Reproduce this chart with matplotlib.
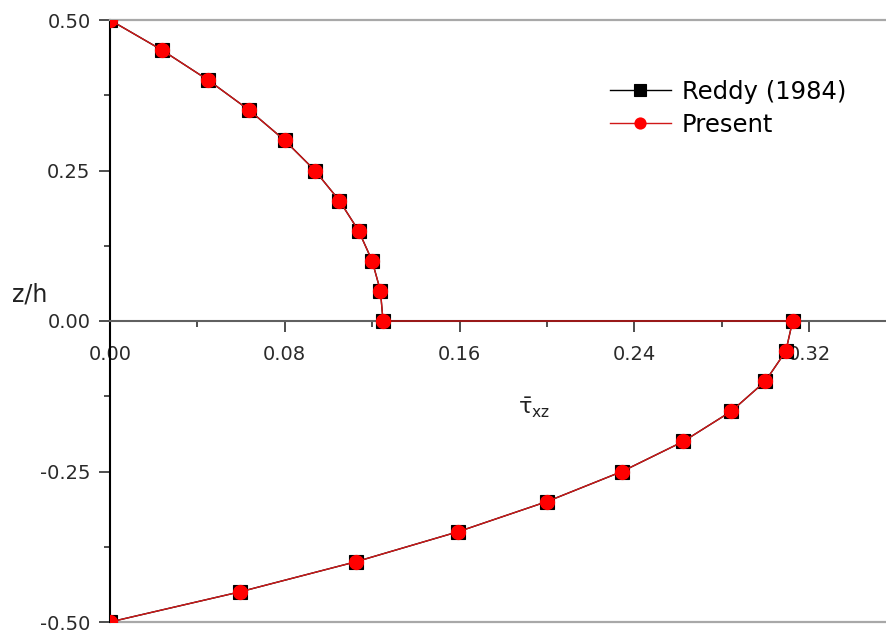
import matplotlib
matplotlib.use("Agg")
import matplotlib.pyplot as plt
from matplotlib.ticker import MultipleLocator, FormatStrFormatter

# Through-thickness transverse shear stress distribution
z_h = [0.50, 0.45, 0.40, 0.35, 0.30, 0.25, 0.20, 0.15, 0.10, 0.05, 0.00,
       0.00, -0.05, -0.10, -0.15, -0.20, -0.25, -0.30, -0.35, -0.40, -0.45, -0.50]
tau_reddy = [0.0, 0.0238, 0.0450, 0.0638, 0.0800, 0.0938, 0.1050, 0.1138, 0.1200, 0.1238, 0.1250,
             0.3125, 0.3094, 0.3000, 0.2844, 0.2625, 0.2344, 0.2000, 0.1594, 0.1125, 0.0594, 0.0]
tau_present = [0.0, 0.0238, 0.0450, 0.0638, 0.0800, 0.0938, 0.1050, 0.1138, 0.1200, 0.1238, 0.1250,
               0.3125, 0.3094, 0.3000, 0.2844, 0.2625, 0.2344, 0.2000, 0.1594, 0.1125, 0.0594, 0.0]

x_major = 0.08
x_minor = 0.04
y_major = 0.25
y_minor = 0.125

W, H = 887, 633
fig = plt.figure(figsize=(W / 100, H / 100), dpi=100)
ax = fig.add_axes([110 / W, 11 / H, 1 - 110 / W, 602 / H])

ax.plot(tau_reddy, z_h, color="black", lw=1.0, marker="s", ms=10,
        mfc="black", mec="black", mew=0.8, zorder=3, label="Reddy (1984)")
ax.plot(tau_present, z_h, color="#d01818", lw=1.0, marker="o", ms=11,
        mfc="#ff0000", mec="#ff0000", mew=0, zorder=4, label="Present")

ax.set_xlim(0, 0.3557)
ax.set_ylim(-0.5, 0.5)

# spines: vertical axis at x=0, horizontal axis through z/h = 0
ax.spines["right"].set_visible(False)
ax.spines["left"].set_color("black")
ax.spines["left"].set_linewidth(1.5)
ax.spines["top"].set_color("#a8a8a8")
ax.spines["top"].set_linewidth(1.6)
ax.spines["bottom"].set_position(("data", 0))
ax.spines["bottom"].set_color("#606060")
ax.spines["bottom"].set_linewidth(1.5)
ax.axhline(-0.5, color="#a8a8a8", lw=1.6, clip_on=False, zorder=2.5)

ax.xaxis.set_major_locator(MultipleLocator(x_major))
ax.xaxis.set_minor_locator(MultipleLocator(x_minor))
ax.yaxis.set_major_locator(MultipleLocator(y_major))
ax.yaxis.set_minor_locator(MultipleLocator(y_minor))
ax.xaxis.set_major_formatter(FormatStrFormatter("%.2f"))
ax.yaxis.set_major_formatter(FormatStrFormatter("%.2f"))

ax.tick_params(axis="both", which="major", direction="out", length=8, width=1.3,
               color="#404040", labelsize=14, labelcolor="#2a2a2a", pad=6)
ax.tick_params(axis="both", which="minor", direction="out", length=4, width=1.3,
               color="#404040")
ax.tick_params(axis="x", which="major", pad=9)

fig.text(30 / W, 1 - 294 / H, "z/h", fontsize=17, color="#222222",
         ha="center", va="center")
fig.text(534 / W, 1 - 408 / H, r"$\bar{\mathrm{\tau}}_{\mathrm{xz}}$", fontsize=16,
         color="#222222", ha="center", va="center")

ax.legend(loc="upper left", bbox_to_anchor=(610 / W, 1 - 80 / H),
          bbox_transform=fig.transFigure, frameon=False, fontsize=17.5,
          handlelength=2.5, handletextpad=0.45, labelspacing=0.35,
          borderaxespad=0, borderpad=0, markerscale=0.8)

fig.savefig("out.png", dpi=100)
